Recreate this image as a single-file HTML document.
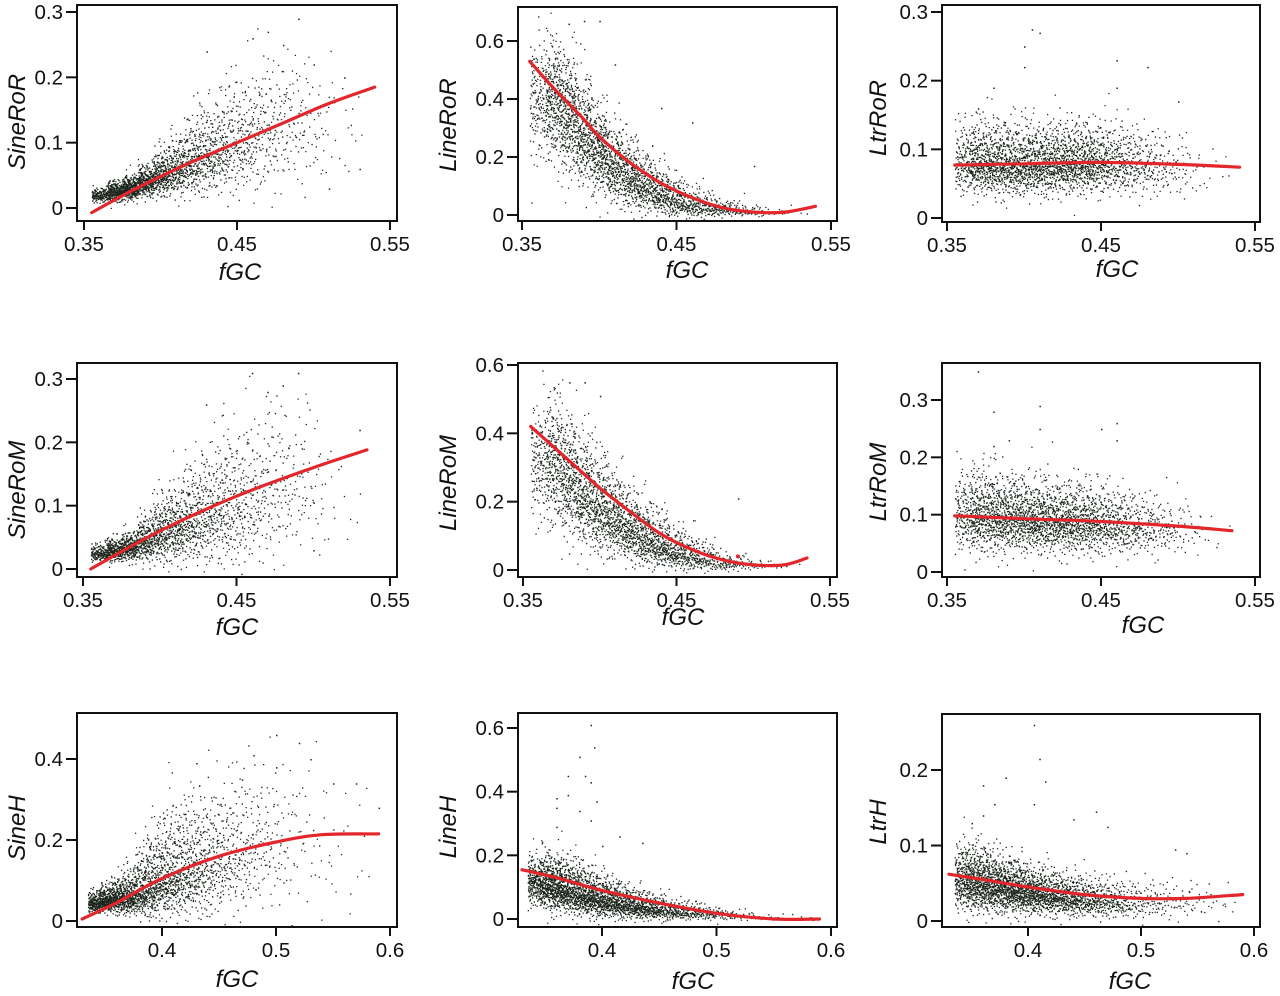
<!DOCTYPE html>
<html><head><meta charset="utf-8"><style>
html,body{margin:0;padding:0;background:#fff;}
svg{display:block;font-family:"Liberation Sans",sans-serif;}
.tk{font-size:20.5px;fill:#111;}
.tt{font-size:24px;font-style:italic;fill:#111;}
</style></head><body>
<svg id="fig" width="1280" height="996" viewBox="0 0 1280 996"></svg>
<script>
// ---------- Data ----------
const xTicksA=[0.35,0.45,0.55]; const xTickLabelsA=["0.35","0.45","0.55"];
const xTicksB=[0.4,0.5,0.6]; const xTickLabelsB=["0.4","0.5","0.6"];
const yTicks01=[0,0.1,0.2,0.3]; const yTickLabels01=["0","0.1","0.2","0.3"];
const yTicks02=[0,0.2,0.4,0.6]; const yTickLabels02=["0","0.2","0.4","0.6"];
const yTicks04=[0,0.2,0.4]; const yTickLabels04=["0","0.2","0.4"];
const yTicks09=[0,0.1,0.2]; const yTickLabels09=["0","0.1","0.2"];

const binXA=[0.36,0.37,0.38,0.39,0.40,0.41,0.42,0.43,0.44,0.45,0.46,0.47,0.48,0.49,0.50,0.51,0.52,0.53];
const binXB=[0.34,0.35,0.36,0.37,0.38,0.39,0.40,0.41,0.42,0.43,0.44,0.45,0.46,0.47,0.48,0.49,0.50,0.51,0.52,0.53,0.54,0.55,0.56,0.57,0.58];

// P1 SineRoR
const p1FitX=[0.355,0.38,0.40,0.42,0.45,0.48,0.51,0.54];
const p1FitY=[-0.007,0.025,0.048,0.07,0.10,0.13,0.16,0.185];
const p1C=[0.02,0.025,0.03,0.04,0.05,0.06,0.07,0.08,0.09,0.10,0.11,0.12,0.13,0.13,0.13,0.12,0.12,0.12];
const p1Up=[0.006,0.008,0.01,0.013,0.02,0.025,0.035,0.04,0.045,0.05,0.05,0.05,0.05,0.05,0.05,0.05,0.05,0.05];
const p1Dn=[0.005,0.007,0.008,0.01,0.014,0.018,0.022,0.026,0.03,0.035,0.04,0.045,0.045,0.045,0.045,0.045,0.045,0.045];
const p1N=[150,300,330,300,260,230,200,170,150,120,100,80,60,45,30,15,8,4];
const p1OutX=[0.49,0.47,0.46,0.43,0.50,0.52,0.48,0.53,0.51];
const p1OutY=[0.29,0.27,0.26,0.24,0.22,0.20,0.25,0.06,0.03];
// P2 LineRoR
const p2FitX=[0.355,0.37,0.39,0.40,0.42,0.44,0.46,0.48,0.50,0.52,0.54];
const p2FitY=[0.53,0.44,0.33,0.27,0.18,0.11,0.06,0.025,0.01,0.01,0.03];
const p2C=[0.40,0.40,0.35,0.28,0.22,0.17,0.13,0.10,0.07,0.05,0.035,0.025,0.02,0.015,0.012,0.01,0.01,0.01];
const p2Up=[0.1,0.1,0.1,0.1,0.08,0.07,0.07,0.06,0.05,0.04,0.035,0.03,0.02,0.02,0.015,0.01,0.01,0.01];
const p2Dn=[0.1,0.1,0.1,0.08,0.07,0.06,0.05,0.04,0.03,0.025,0.02,0.015,0.01,0.008,0.006,0.005,0.005,0.005];
const p2N=[150,300,320,300,280,260,240,200,180,150,110,80,60,40,25,12,6,3];
const p2OutX=[0.38,0.39,0.40,0.41,0.44,0.46,0.50,0.355];
const p2OutY=[0.66,0.67,0.67,0.52,0.37,0.32,0.17,0.31];
// P3 LtrRoR
const p3FitX=[0.355,0.40,0.45,0.50,0.54];
const p3FitY=[0.077,0.079,0.081,0.078,0.074];
const p3C=[0.08,0.08,0.078,0.077,0.077,0.078,0.079,0.08,0.08,0.08,0.08,0.078,0.077,0.075,0.073,0.072,0.07,0.07];
const p3Up=[0.03,0.032,0.032,0.032,0.03,0.03,0.03,0.03,0.03,0.03,0.03,0.03,0.028,0.026,0.024,0.02,0.02,0.02];
const p3Dn=[0.02,0.02,0.02,0.02,0.02,0.02,0.02,0.02,0.02,0.02,0.02,0.02,0.02,0.02,0.02,0.02,0.02,0.02];
const p3N=[150,250,250,250,250,250,250,250,230,180,140,110,80,55,35,15,6,3];
const p3OutX=[0.41,0.405,0.40,0.40,0.46,0.48,0.46,0.50,0.38,0.37];
const p3OutY=[0.27,0.275,0.25,0.22,0.23,0.22,0.19,0.17,0.19,0.16];
// P4 SineRoM
const p4FitX=[0.355,0.40,0.45,0.50,0.535];
const p4FitY=[0.0,0.06,0.115,0.16,0.188];
const p4C=[0.025,0.03,0.035,0.045,0.055,0.065,0.075,0.085,0.095,0.10,0.11,0.12,0.13,0.13,0.13,0.12,0.10,0.10];
const p4Up=[0.008,0.01,0.012,0.02,0.03,0.035,0.045,0.05,0.06,0.06,0.07,0.07,0.07,0.07,0.07,0.06,0.05,0.05];
const p4Dn=[0.006,0.008,0.01,0.015,0.02,0.025,0.03,0.035,0.04,0.045,0.05,0.05,0.05,0.05,0.05,0.05,0.04,0.04];
const p4N=[150,250,260,240,230,210,190,170,150,120,90,70,55,40,25,12,5,2];
const p4OutX=[0.46,0.49,0.48,0.47,0.43,0.53,0.50];
const p4OutY=[0.31,0.31,0.29,0.28,0.26,0.22,0.03];
// P5 LineRoM
const p5FitX=[0.355,0.37,0.39,0.40,0.42,0.44,0.46,0.48,0.50,0.52,0.535];
const p5FitY=[0.42,0.36,0.28,0.24,0.17,0.105,0.06,0.03,0.015,0.015,0.035];
const p5C=[0.32,0.32,0.27,0.22,0.18,0.15,0.12,0.09,0.07,0.05,0.04,0.03,0.02,0.018,0.015,0.015,0.015,0.015];
const p5Up=[0.08,0.09,0.09,0.09,0.08,0.07,0.06,0.055,0.05,0.04,0.035,0.03,0.02,0.015,0.012,0.01,0.01,0.01];
const p5Dn=[0.08,0.09,0.08,0.07,0.06,0.05,0.045,0.035,0.03,0.02,0.018,0.015,0.01,0.008,0.006,0.005,0.005,0.005];
const p5N=[150,260,280,280,270,250,240,210,190,150,110,80,55,35,20,10,4,2];
const p5OutX=[0.38,0.39,0.37,0.40,0.49];
const p5OutY=[0.55,0.55,0.53,0.51,0.21];
// P6 LtrRoM
const p6FitX=[0.355,0.40,0.45,0.50,0.535];
const p6FitY=[0.098,0.093,0.088,0.08,0.072];
const p6C=[0.1,0.1,0.098,0.095,0.093,0.09,0.09,0.088,0.087,0.085,0.083,0.08,0.078,0.076,0.074,0.072,0.07,0.07];
const p6Up=[0.04,0.04,0.04,0.038,0.036,0.036,0.035,0.035,0.035,0.034,0.032,0.03,0.03,0.03,0.028,0.025,0.02,0.02];
const p6Dn=[0.03,0.03,0.03,0.028,0.026,0.026,0.025,0.025,0.025,0.024,0.024,0.022,0.022,0.02,0.02,0.02,0.02,0.02];
const p6N=[150,250,250,250,250,250,240,230,210,170,140,110,80,55,35,15,5,2];
const p6OutX=[0.37,0.38,0.41,0.41,0.46,0.45,0.46,0.39,0.38];
const p6OutY=[0.35,0.28,0.29,0.25,0.26,0.25,0.23,0.23,0.22];
// P7 SineH
const p7FitX=[0.33,0.36,0.40,0.45,0.50,0.54,0.59];
const p7FitY=[0.005,0.045,0.105,0.16,0.195,0.213,0.215];
const p7C=[0.045,0.05,0.055,0.06,0.07,0.085,0.10,0.11,0.12,0.13,0.14,0.15,0.16,0.17,0.18,0.19,0.19,0.2,0.2,0.2,0.18,0.18,0.17,0.15,0.15];
const p7Up=[0.015,0.02,0.025,0.035,0.05,0.07,0.08,0.09,0.09,0.09,0.09,0.09,0.1,0.1,0.1,0.1,0.1,0.1,0.1,0.1,0.1,0.1,0.1,0.1,0.1];
const p7Dn=[0.01,0.012,0.015,0.02,0.025,0.035,0.04,0.045,0.05,0.055,0.06,0.06,0.06,0.07,0.07,0.08,0.08,0.09,0.09,0.09,0.09,0.09,0.09,0.08,0.08];
const p7N=[200,280,260,240,230,220,200,180,160,140,120,100,80,65,50,40,30,22,16,12,9,7,5,4,3];
const p7OutX=[0.50,0.52,0.48,0.53,0.55,0.57,0.59,0.43,0.50,0.47];
const p7OutY=[0.46,0.44,0.41,0.40,0.34,0.34,0.28,0.39,0.38,0.35];
// P8 LineH
const p8FitX=[0.33,0.36,0.40,0.45,0.50,0.55,0.59];
const p8FitY=[0.155,0.13,0.09,0.05,0.018,0.0,0.0];
const p8C=[0.12,0.11,0.10,0.09,0.08,0.07,0.06,0.055,0.045,0.04,0.035,0.03,0.025,0.022,0.02,0.018,0.015,0.012,0.01,0.008,0.006,0.005,0.004,0.004,0.004];
const p8Up=[0.04,0.05,0.05,0.05,0.05,0.045,0.04,0.035,0.03,0.03,0.025,0.025,0.02,0.02,0.018,0.015,0.013,0.012,0.01,0.01,0.008,0.007,0.006,0.006,0.006];
const p8Dn=[0.035,0.035,0.035,0.03,0.03,0.028,0.025,0.022,0.02,0.018,0.016,0.014,0.012,0.01,0.01,0.009,0.008,0.007,0.006,0.005,0.004,0.004,0.003,0.003,0.003];
const p8N=[200,280,280,260,250,230,210,190,170,150,130,110,90,70,55,40,30,20,14,10,7,5,4,3,3];
const p8OutX=[0.39,0.393,0.38,0.385,0.37,0.39,0.36,0.37,0.395,0.38,0.36,0.39,0.415,0.435,0.36,0.40];
const p8OutY=[0.61,0.54,0.51,0.45,0.45,0.43,0.38,0.39,0.37,0.34,0.35,0.31,0.26,0.24,0.29,0.23];
// P9 LtrH
const p9FitX=[0.33,0.36,0.40,0.45,0.50,0.54,0.59];
const p9FitY=[0.062,0.055,0.045,0.035,0.03,0.03,0.035];
const p9C=[0.055,0.052,0.05,0.047,0.044,0.041,0.038,0.036,0.034,0.032,0.03,0.029,0.028,0.027,0.026,0.025,0.025,0.025,0.025,0.025,0.025,0.025,0.025,0.025,0.025];
const p9Up=[0.025,0.025,0.024,0.022,0.02,0.02,0.018,0.018,0.017,0.016,0.016,0.016,0.015,0.015,0.015,0.015,0.015,0.015,0.015,0.015,0.015,0.015,0.015,0.015,0.015];
const p9Dn=[0.018,0.018,0.017,0.016,0.015,0.014,0.013,0.012,0.012,0.011,0.011,0.01,0.01,0.01,0.01,0.01,0.01,0.01,0.01,0.01,0.01,0.01,0.01,0.01,0.01];
const p9N=[200,270,270,260,250,240,220,200,180,160,140,120,100,80,65,50,40,30,24,18,14,10,8,6,4];
const p9OutX=[0.405,0.41,0.38,0.415,0.36,0.37,0.405,0.44,0.46,0.47,0.36,0.35,0.53,0.54];
const p9OutY=[0.26,0.215,0.19,0.185,0.18,0.155,0.155,0.135,0.145,0.125,0.14,0.13,0.095,0.09];

// ---------- Layout ----------
const panels=[
 {id:"sine-ror",title:"SineRoR",box:[77,5,397,221],xm:[0.35,84,0.55,390],ym:[0,208,0.3,12],xt:xTicksA,xl:xTickLabelsA,yt:yTicks01,yl:yTickLabels01,bx:binXA,fx:p1FitX,fy:p1FitY,c:p1C,up:p1Up,dn:p1Dn,n:p1N,ox:p1OutX,oy:p1OutY,xtp:[240,280],ytp:[17,122]},
 {id:"line-ror",title:"LineRoR",box:[518,7,837,221],xm:[0.35,522,0.55,831],ym:[0,215,0.6,41],xt:xTicksA,xl:xTickLabelsA,yt:yTicks02,yl:yTickLabels02,bx:binXA,fx:p2FitX,fy:p2FitY,c:p2C,up:p2Up,dn:p2Dn,n:p2N,ox:p2OutX,oy:p2OutY,xtp:[687,278],ytp:[448,125]},
 {id:"ltr-ror",title:"LtrRoR",box:[942,5,1260,222],xm:[0.35,947,0.55,1255],ym:[0,218,0.3,12],xt:xTicksA,xl:xTickLabelsA,yt:yTicks01,yl:yTickLabels01,bx:binXA,fx:p3FitX,fy:p3FitY,c:p3C,up:p3Up,dn:p3Dn,n:p3N,ox:p3OutX,oy:p3OutY,xtp:[1117,277],ytp:[878,118]},
 {id:"sine-rom",title:"SineRoM",box:[77,363,397,577],xm:[0.35,83,0.55,390],ym:[0,569,0.3,379],xt:xTicksA,xl:xTickLabelsA,yt:yTicks01,yl:yTickLabels01,bx:binXA,fx:p4FitX,fy:p4FitY,c:p4C,up:p4Up,dn:p4Dn,n:p4N,ox:p4OutX,oy:p4OutY,xtp:[237,635],ytp:[17,490]},
 {id:"line-rom",title:"LineRoM",box:[518,363,837,577],xm:[0.35,523,0.55,830],ym:[0,570,0.6,365],xt:xTicksA,xl:xTickLabelsA,yt:yTicks02,yl:yTickLabels02,bx:binXA,fx:p5FitX,fy:p5FitY,c:p5C,up:p5Up,dn:p5Dn,n:p5N,ox:p5OutX,oy:p5OutY,xtp:[683,625],ytp:[448,483]},
 {id:"ltr-rom",title:"LtrRoM",box:[942,363,1260,577],xm:[0.35,947,0.55,1255],ym:[0,572,0.3,400],xt:xTicksA,xl:xTickLabelsA,yt:yTicks01,yl:yTickLabels01,bx:binXA,fx:p6FitX,fy:p6FitY,c:p6C,up:p6Up,dn:p6Dn,n:p6N,ox:p6OutX,oy:p6OutY,xtp:[1143,633],ytp:[878,482]},
 {id:"sine-h",title:"SineH",box:[77,713,397,927],xm:[0.4,162,0.6,390],ym:[0,921,0.4,759],xt:xTicksB,xl:xTickLabelsB,yt:yTicks04,yl:yTickLabels04,bx:binXB,fx:p7FitX,fy:p7FitY,c:p7C,up:p7Up,dn:p7Dn,n:p7N,ox:p7OutX,oy:p7OutY,xtp:[237,987],ytp:[17,828]},
 {id:"line-h",title:"LineH",box:[518,713,837,927],xm:[0.4,602,0.6,831],ym:[0,919,0.6,728],xt:xTicksB,xl:xTickLabelsB,yt:yTicks02,yl:yTickLabels02,bx:binXB,fx:p8FitX,fy:p8FitY,c:p8C,up:p8Up,dn:p8Dn,n:p8N,ox:p8OutX,oy:p8OutY,xtp:[693,989],ytp:[448,827]},
 {id:"ltr-h",title:"LtrH",box:[942,714,1260,927],xm:[0.4,1028,0.6,1254],ym:[0,921,0.2,770],xt:xTicksB,xl:xTickLabelsB,yt:yTicks09,yl:yTickLabels09,bx:binXB,fx:p9FitX,fy:p9FitY,c:p9C,up:p9Up,dn:p9Dn,n:p9N,ox:p9OutX,oy:p9OutY,xtp:[1130,989],ytp:[878,822]}
];

const NS="http://www.w3.org/2000/svg";
const svg=document.getElementById("fig");
function mk(tag,attrs,parent){const e=document.createElementNS(NS,tag);for(const k in attrs)e.setAttribute(k,attrs[k]);(parent||svg).appendChild(e);return e;}
function halton(i,b){let f=1,r=0;while(i>0){f/=b;r+=f*(i%b);i=Math.floor(i/b);}return r;}
function spline(pts){let d="M"+pts[0][0].toFixed(1)+","+pts[0][1].toFixed(1);
 for(let i=0;i<pts.length-1;i++){const p0=pts[Math.max(0,i-1)],p1=pts[i],p2=pts[i+1],p3=pts[Math.min(pts.length-1,i+2)];
  const c1=[p1[0]+(p2[0]-p0[0])/6,p1[1]+(p2[1]-p0[1])/6],c2=[p2[0]-(p3[0]-p1[0])/6,p2[1]-(p3[1]-p1[1])/6];
  d+=" C"+c1[0].toFixed(1)+","+c1[1].toFixed(1)+" "+c2[0].toFixed(1)+","+c2[1].toFixed(1)+" "+p2[0].toFixed(1)+","+p2[1].toFixed(1);}
 return d;}

let K=1;
panels.forEach(p=>{
 const g=mk("g",{});
 
 
 const [l,t,r,b]=p.box;
 const sx=v=>p.xm[1]+(v-p.xm[0])*(p.xm[3]-p.xm[1])/(p.xm[2]-p.xm[0]);
 const sy=v=>p.ym[1]+(v-p.ym[0])*(p.ym[3]-p.ym[1])/(p.ym[2]-p.ym[0]);
 const pg=mk("g",{fill:"#1c261c"},g);
 
 
 let d="";
 p.bx.forEach((bxv,j)=>{
  for(let i=0;i<p.n[j];i++){K++;
   const u1=Math.max(halton(K,2),1e-4),u2=halton(K,3),u3=halton(K,5);
   const z=Math.sqrt(-2*Math.log(u1))*Math.cos(2*Math.PI*u2);
   const yv=p.c[j]+(z>0?z*p.up[j]:z*p.dn[j]);
   const xv=bxv+(u3-0.5)*0.01;
   const px=sx(xv),py=sy(yv);
   if(px<l+2||px>r-2||py<t+2||py>b-2)continue;
   d+="M"+px.toFixed(1)+","+py.toFixed(1)+"h1.3v1.3h-1.3z";
  }});
 p.ox.forEach((xv,j)=>{const px=sx(xv),py=sy(p.oy[j]);d+="M"+px.toFixed(1)+","+py.toFixed(1)+"h1.5v1.5h-1.5z";});
 mk("path",{d:d},pg);
 const fit=mk("path",{d:spline(p.fx.map((x,i)=>[sx(x),sy(p.fy[i])])),fill:"none",stroke:"#e3262b","stroke-width":3.2,"stroke-linecap":"round"},g);
 
 
 const fr=mk("rect",{x:l,y:t,width:r-l,height:b-t,fill:"none",stroke:"#111","stroke-width":2},g);
 
 
 p.xt.forEach((v,i)=>{const x=sx(v);
  const tk=mk("line",{x1:x,y1:b,x2:x,y2:b+9,stroke:"#111","stroke-width":2},g);
  
  
  const tx=mk("text",{x:x,y:b+30,"text-anchor":"middle",class:"tk"},g);tx.textContent=p.xl[i];
  
  
 });
 p.yt.forEach((v,i)=>{const y=sy(v);
  const tk=mk("line",{x1:l-11,y1:y,x2:l,y2:y,stroke:"#111","stroke-width":2},g);
  
  
  const tx=mk("text",{x:l-14,y:y+7,"text-anchor":"end",class:"tk"},g);tx.textContent=p.yl[i];
  
  
 });
 const xt=mk("text",{x:p.xtp[0],y:p.xtp[1],"text-anchor":"middle",class:"tt"},g);xt.textContent="fGC";
 
 
 const yt=mk("text",{x:0,y:0,"text-anchor":"middle",class:"tt",transform:"translate("+(p.ytp[0]+8)+","+p.ytp[1]+") rotate(-90)"},g);yt.textContent=p.title;
 
 
});
const mp=panels[4];
const rm=mk("circle",{cx:mp.xm[1]+(0.49-mp.xm[0])*(mp.xm[3]-mp.xm[1])/(mp.xm[2]-mp.xm[0]),cy:mp.ym[1]+(0.04-mp.ym[0])*(mp.ym[3]-mp.ym[1])/(mp.ym[2]-mp.ym[0]),r:2,fill:"#e3262b"});


</script>
</body></html>
